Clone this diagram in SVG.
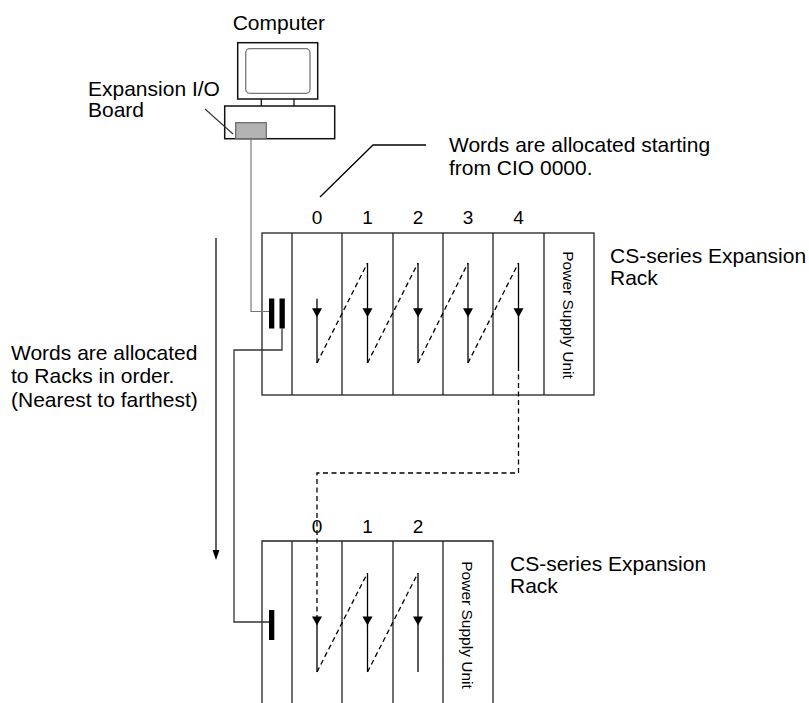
<svg xmlns="http://www.w3.org/2000/svg" xmlns:xlink="http://www.w3.org/1999/xlink" width="809" height="703" viewBox="0 0 809 703">
<defs>
<style>
text{font-family:"Liberation Sans",Arial,sans-serif;fill:#000}
.lbl{font-size:21px}
.num{font-size:19px;text-anchor:middle}
.psu{font-size:15.5px;text-anchor:middle}
.rack{fill:none;stroke:#222;stroke-width:1.3}
.sol{fill:none;stroke:#000;stroke-width:1.3}
.dash{fill:none;stroke:#000;stroke-width:1.3;stroke-dasharray:5 3.5}
.wire{fill:none;stroke:#333;stroke-width:1.3}
.wireg{fill:none;stroke:#777;stroke-width:1.2}
</style>
<path id="ah" d="M-5,0 L5,0 L0,9 Z" fill="#000"/>
</defs>
<rect width="809" height="703" fill="#fff"/>

<g id="computer">
<text class="lbl" x="232.7" y="30">Computer</text>
<rect x="237.7" y="42.7" width="80" height="56.3" fill="#fff" stroke="#111" stroke-width="1.5"/>
<rect x="245.7" y="48.7" width="64.3" height="44.6" rx="4" fill="#fff" stroke="#777" stroke-width="1.3"/>
<line x1="261.3" y1="99" x2="261.3" y2="106" stroke="#111" stroke-width="1.3"/>
<line x1="294" y1="99" x2="294" y2="106" stroke="#111" stroke-width="1.3"/>
<rect x="224.7" y="106" width="110" height="32.7" fill="#fff" stroke="#111" stroke-width="1.5"/>
<rect x="235.7" y="122.7" width="30.6" height="16" fill="#b3b3b3" stroke="#666" stroke-width="1.2"/>
</g>

<g id="board-label">
<text class="lbl" x="88" y="95.5">Expansion I/O</text>
<text class="lbl" x="88" y="117">Board</text>
<line x1="205" y1="109" x2="233" y2="134" stroke="#333" stroke-width="1.1"/>
</g>

<g id="start-note">
<text class="lbl" x="449" y="151.7">Words are allocated starting</text>
<text class="lbl" x="449" y="175">from CIO 0000.</text>
<path class="sol" d="M320,197 L373,145 H426" stroke="#222"/>
</g>

<g id="order-note">
<text class="lbl" x="11" y="360">Words are allocated</text>
<text class="lbl" x="11" y="383.3">to Racks in order.</text>
<text class="lbl" x="11" y="406.5">(Nearest to farthest)</text>
<line x1="216" y1="238" x2="216" y2="551" stroke="#111" stroke-width="1.3"/>
<path d="M212.5,550 L219.5,550 L216,560 Z" fill="#000"/>
</g>

<g id="rack1">
<rect class="rack" x="262" y="233" width="332" height="162"/>
<path class="rack" d="M292,233 V395 M342,233 V395 M393,233 V395 M443,233 V395 M493,233 V395 M544,233 V395"/>
<text class="num" x="317" y="224">0</text>
<text class="num" x="367.5" y="224">1</text>
<text class="num" x="418" y="224">2</text>
<text class="num" x="468" y="224">3</text>
<text class="num" x="518.5" y="224">4</text>
<text class="psu" transform="translate(563,315) rotate(90)">Power Supply Unit</text>
<rect x="269" y="298.5" width="5.3" height="30" fill="#000"/>
<rect x="279.5" y="298.5" width="5.3" height="30" fill="#000"/>
<path class="sol" d="M317,298.7 V363 M367.5,263 V363 M418,263 V363 M468,263 V363 M518.5,263 V366"/>
<path class="dash" d="M317,363 L367.5,263 M367.5,363 L418,263 M418,363 L468,263 M468,363 L518.5,263"/>
<use xlink:href="#ah" x="317" y="308.3"/>
<use xlink:href="#ah" x="367.5" y="308.3"/>
<use xlink:href="#ah" x="418" y="308.3"/>
<use xlink:href="#ah" x="468" y="308.3"/>
<use xlink:href="#ah" x="518.5" y="308.3"/>
<text class="lbl" x="610" y="263.3">CS-series Expansion</text>
<text class="lbl" x="610" y="285">Rack</text>
</g>

<g id="rack2">
<path class="rack" d="M262,703 V541 H493 V703 M292,541 V703 M342,541 V703 M393,541 V703 M443,541 V703"/>
<text class="num" x="317" y="533">0</text>
<text class="num" x="367.5" y="533">1</text>
<text class="num" x="418" y="533">2</text>
<text class="psu" transform="translate(462,625) rotate(90)">Power Supply Unit</text>
<rect x="269" y="610" width="5.3" height="30" fill="#000"/>
<path class="sol" d="M317,616 V672 M367.5,573 V672 M418,573 V672"/>
<path class="dash" d="M317,672 L367.5,573 M367.5,672 L418,573"/>
<use xlink:href="#ah" x="317" y="616.5"/>
<use xlink:href="#ah" x="367.5" y="616.5"/>
<use xlink:href="#ah" x="418" y="616.5"/>
<text class="lbl" x="510" y="571">CS-series Expansion</text>
<text class="lbl" x="510" y="593">Rack</text>
</g>

<g id="connectors">
<path class="wireg" d="M251,138.7 V311.5 H269"/>
<path class="wire" d="M282,328.5 V350 H234 V622 H269"/>
<path class="dash" d="M518.5,366 V473 H317 V616"/>
</g>
</svg>
